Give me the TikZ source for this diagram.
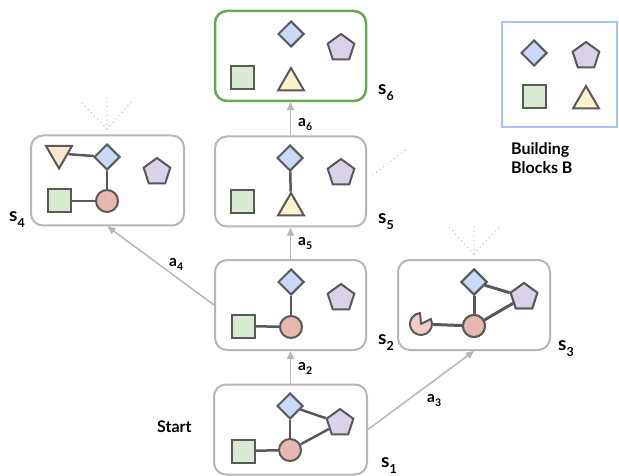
\documentclass[tikz,border=0pt]{standalone}
\usepackage{fontspec}
\setmainfont{Lato}
\usetikzlibrary{shapes.geometric,arrows.meta}
\definecolor{strk}{HTML}{595959}
\definecolor{dfill}{HTML}{C9DAF8}
\definecolor{pfill}{HTML}{D9D2E9}
\definecolor{sfill}{HTML}{D9EAD3}
\definecolor{tfill}{HTML}{FFF2CC}
\definecolor{ofill}{HTML}{FCE5CD}
\definecolor{cfill}{HTML}{E6B8AF}
\definecolor{pacfill}{HTML}{F4CCCC}
\definecolor{boxc}{HTML}{B7B7B7}
\definecolor{arrc}{HTML}{B7B7B7}
\definecolor{goalc}{HTML}{6AA84F}
\definecolor{bbc}{HTML}{A4C2F4}
\newcommand\slbl[2]{{\fontsize{19}{20}\selectfont #1}\raisebox{-6pt}{\fontsize{12.5}{13}\selectfont #2}}
\newcommand\albl[2]{{\fontsize{15.5}{17}\selectfont #1}\raisebox{-4pt}{\fontsize{10.5}{12}\selectfont #2}}
\begin{document}
\begin{tikzpicture}[x=1pt,y=-1pt,
  shp/.style={draw=strk,line width=2pt,inner sep=0pt},
  dia/.style={shp,diamond,fill=dfill,minimum width=26pt,minimum height=26pt},
  pent/.style={shp,regular polygon,regular polygon sides=5,fill=pfill,minimum size=28pt},
  sq/.style={shp,rectangle,fill=sfill,minimum size=23pt},
  tri/.style={shp,regular polygon,regular polygon sides=3,fill=tfill,minimum size=30pt},
  itri/.style={tri,shape border rotate=180,fill=ofill},
  circ/.style={shp,circle,fill=cfill,minimum size=22pt},
  state/.style={draw=boxc,line width=2pt,rounded corners=12pt,minimum width=151pt,minimum height=90pt,inner sep=0pt},
  link/.style={draw=strk,line width=2.5pt},
  blink/.style={draw=strk,line width=3pt},
  act/.style={draw=arrc,line width=1.5pt,-{Triangle[length=8pt,width=7pt]}},
  fan/.style={draw=arrc,line width=1.4pt,line cap=round,dash pattern=on 0pt off 4.5pt},
  lbl/.style={inner sep=0pt,anchor=base west,font=\bfseries}]
\useasboundingbox (0,0) rectangle (619,476);

% state boxes
\node[state,draw=goalc,line width=2.5pt] (s6) at (290.5,56) {};
\node[state,minimum width=153pt] (s4) at (107.5,180.5) {};
\node[state] (s5) at (290.5,181.5) {};
\node[state] (s2) at (290.5,305) {};
\node[state,minimum width=152pt] (s3) at (474,305) {};
\node[state,minimum width=153pt] (s1) at (290.5,429.5) {};
\node[draw=bbc,line width=2pt,minimum width=115pt,minimum height=105pt,inner sep=0pt] (bb) at (559.5,74.5) {};

% actions
\draw[act] (s5.north) -- (s6.south);
\draw[act] (s2.north) -- (s5.south);
\draw[act] (s1.north) -- (s2.south);
\draw[act] (s2.west) -- (s4.south);
\draw[act] (s1.east) -- (s3.south);

% dotted fans
\coordinate (f4) at (107,129);
\coordinate (f4a) at (79,100);
\coordinate (f4b) at (107,97);
\coordinate (f4c) at (134,99);
\draw[fan] (f4) -- (f4a); \draw[fan] (f4) -- (f4b); \draw[fan] (f4) -- (f4c);
\coordinate (f3) at (474,254);
\coordinate (f3a) at (449,227);
\coordinate (f3b) at (474,224);
\coordinate (f3c) at (499,227);
\draw[fan] (f3) -- (f3a); \draw[fan] (f3) -- (f3b); \draw[fan] (f3) -- (f3c);
\coordinate (f5) at (373,175);
\coordinate (f5a) at (408,148);
\draw[fan] (f5) -- (f5a);

% s6
\node[dia] (d6) at (291,34) {};
\node[pent] (p6) at (341,48) {};
\node[sq] (q6) at (242,78) {};
\node[tri] (t6) at (291,83) {};

% s5
\node[dia] (d5) at (290,158) {};
\node[tri] (t5) at (291,208) {};
\node[pent] (p5) at (341,173) {};
\node[sq] (q5) at (242,202) {};
\draw[link] (d5) -- (t5);

% s4
\node[itri] (t4) at (59,153.5) {};
\node[dia] (d4) at (107,157) {};
\node[pent] (p4) at (157,172) {};
\node[sq] (q4) at (59,201) {};
\node[circ] (c4) at (107,201) {};
\draw[link] (t4) -- (d4);
\draw[link] (d4) -- (c4);
\draw[link] (q4) -- (c4);

% s2
\node[dia] (d2) at (291,282) {};
\node[pent] (p2) at (341,298) {};
\node[sq] (q2) at (243,326) {};
\node[circ] (c2) at (291,327) {};
\draw[link] (q2) -- (c2);
\draw[link] (d2) -- (c2);

% s3
\node[dia] (d3) at (474,282) {};
\node[pent] (p3) at (524,297) {};
\node[circ] (c3) at (474,326) {};
\node[circle,minimum size=24pt,inner sep=0pt] (pac) at (421,324) {};
\fill[pacfill,draw=strk,line width=2pt,line join=round] (pac.center) -- ++(-27:11) arc[start angle=-27,end angle=265,radius=11] -- cycle;
\draw[blink] (d3) -- (p3);
\draw[blink] (d3) -- (c3);
\draw[blink] (c3) -- (p3);
\draw[blink] (pac) -- (c3);
\node[dia] at (d3) {};
\node[pent] at (p3) {};
\node[circ] at (c3) {};

% s1
\node[dia] (d1) at (290,406) {};
\node[pent] (p1) at (340,423) {};
\node[sq] (q1) at (243,451) {};
\node[circ] (c1) at (290,450) {};
\draw[link] (d1) -- (p1);
\draw[link] (d1) -- (c1);
\draw[link] (c1) -- (p1);
\draw[link] (q1) -- (c1);

% building blocks
\node[dia] (bd) at (534,53) {};
\node[pent] (bp) at (586,56) {};
\node[sq] (bq) at (534,97) {};
\node[tri] (bt) at (586,101) {};

% labels
\node[lbl] (ls6) at (378,95) {\slbl{s}{6}};
\node[lbl] (ls5) at (378,223) {\slbl{s}{5}};
\node[lbl] (ls4) at (9,222) {\slbl{s}{4}};
\node[lbl] (ls2) at (378,344) {\slbl{s}{2}};
\node[lbl] (ls3) at (558,350) {\slbl{s}{3}};
\node[lbl] (ls1) at (381,467) {\slbl{s}{1}};
\node[lbl] (la6) at (298,127) {\albl{a}{6}};
\node[lbl] (la5) at (298,245) {\albl{a}{5}};
\node[lbl] (la2) at (298,370) {\albl{a}{2}};
\node[lbl] (la4) at (169,266) {\albl{a}{4}};
\node[lbl] (la3) at (427,402) {\albl{a}{3}};
\node[lbl,font=\bfseries\fontsize{16}{18}\selectfont] (start) at (157,432) {Start};
\node[lbl,font=\bfseries\fontsize{16}{18}\selectfont] (bb1) at (511,155) {Building};
\node[lbl,font=\bfseries\fontsize{16}{18}\selectfont] (bb2) at (511,174) {Blocks B};
\end{tikzpicture}
\end{document}
